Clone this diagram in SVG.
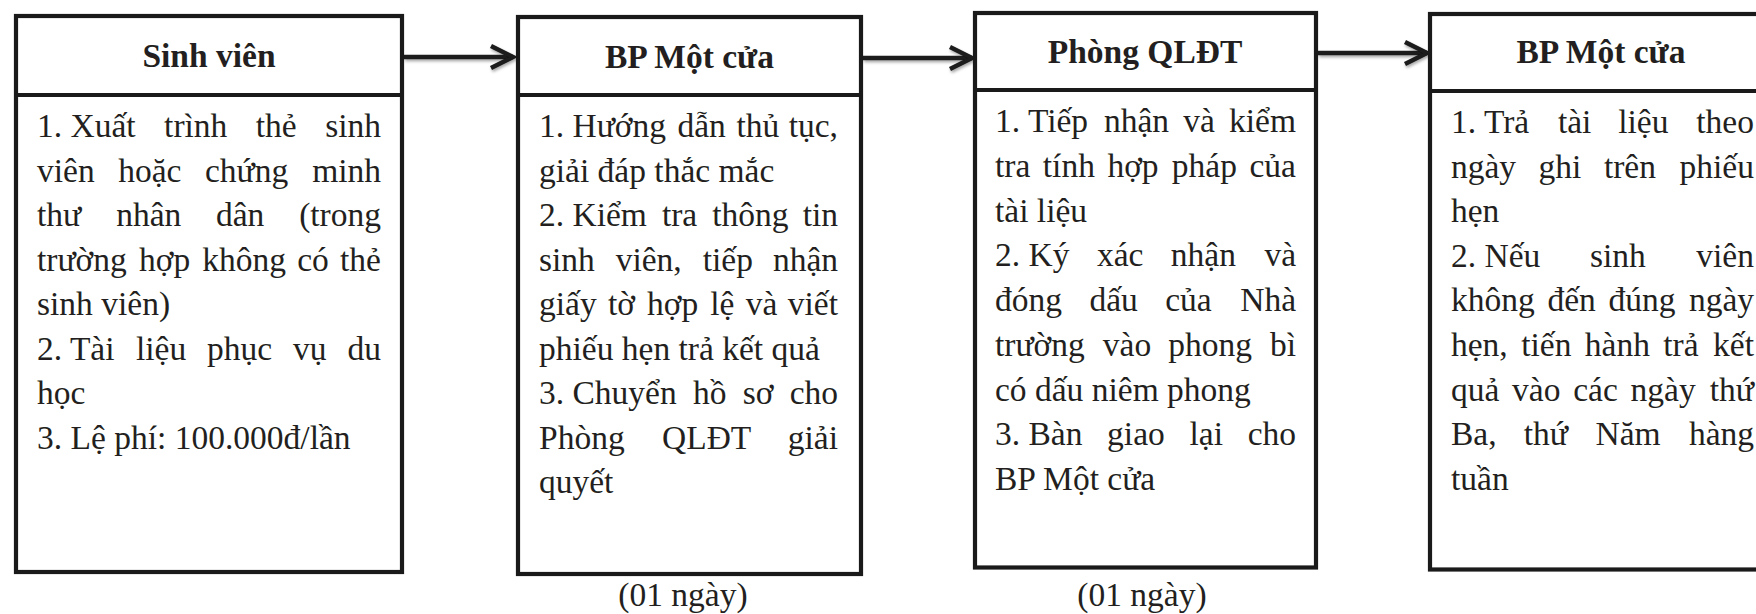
<svg xmlns="http://www.w3.org/2000/svg" width="1756" height="614" viewBox="0 0 1756 614">
<style>
.box{fill:#fff;stroke:#1a1a1a;stroke-width:4.2}
.div{stroke:#1a1a1a;stroke-width:4.2}
.hd{font-family:"Liberation Serif","Times New Roman",serif;font-weight:bold;font-size:33.5px;text-anchor:middle;fill:#231f20}
.bd{font-family:"Liberation Serif","Times New Roman",serif;font-size:33.5px;fill:#231f20}
.e{text-anchor:end}
.dur{font-family:"Liberation Serif","Times New Roman",serif;font-size:33.5px;text-anchor:middle;fill:#231f20}
.conn{stroke:#1a1a1a;stroke-width:4.5;fill:none;filter:url(#sh)}
</style>
<defs>
<filter id="sh" filterUnits="userSpaceOnUse" x="0" y="0" width="1756" height="614">
<feDropShadow dx="1" dy="2" stdDeviation="1.5" flood-color="#000" flood-opacity="0.35"/>
</filter>
<marker id="chev" markerUnits="userSpaceOnUse" viewBox="0 0 28 28" refX="25" refY="14" markerWidth="28" markerHeight="28" orient="auto">
<path d="M3,3 L25,14 L3,25" fill="none" stroke="#1a1a1a" stroke-width="4.5" stroke-linejoin="miter"/>
</marker>
</defs>

<g id="connectors">
<path class="conn" d="M404,57 L513,57" marker-end="url(#chev)"/>
<path class="conn" d="M863,58 L972,58" marker-end="url(#chev)"/>
<path class="conn" d="M1318,53 L1427,53" marker-end="url(#chev)"/>
</g>

<g id="node-sinhvien">
<rect class="box" x="16" y="16" width="386" height="556"/>
<line class="div" x1="16" y1="95" x2="402" y2="95"/>
<text class="hd" x="209" y="67">Sinh viên</text>
<text class="bd" y="137"><tspan x="37">1. Xuất</tspan><tspan x="164.1">trình</tspan><tspan x="255.8">thẻ</tspan><tspan x="381" class="e">sinh</tspan></text>
<text class="bd" y="181.5"><tspan x="37">viên</tspan><tspan x="118.2">hoặc</tspan><tspan x="205">chứng</tspan><tspan x="381" class="e">minh</tspan></text>
<text class="bd" y="226"><tspan x="37">thư</tspan><tspan x="116.2">nhân</tspan><tspan x="216">dân</tspan><tspan x="381" class="e">(trong</tspan></text>
<text class="bd" y="270.5"><tspan x="37">trường</tspan><tspan x="139">hợp</tspan><tspan x="202.2">không</tspan><tspan x="297.2">có</tspan><tspan x="381" class="e">thẻ</tspan></text>
<text class="bd" x="37" y="315">sinh viên)</text>
<text class="bd" y="359.5"><tspan x="37">2. Tài</tspan><tspan x="136">liệu</tspan><tspan x="207.1">phục</tspan><tspan x="293.1">vụ</tspan><tspan x="381" class="e">du</tspan></text>
<text class="bd" x="37" y="404">học</text>
<text class="bd" x="37" y="448.5">3. Lệ phí: 100.000đ/lần</text>
</g>

<g id="node-bp1">
<rect class="box" x="518" y="17" width="343" height="557"/>
<line class="div" x1="518" y1="95" x2="861" y2="95"/>
<text class="hd" x="689.5" y="68">BP Một cửa</text>
<text class="bd" y="137"><tspan x="539">1. Hướng</tspan><tspan x="677.5">dẫn</tspan><tspan x="736.4">thủ</tspan><tspan x="838" class="e">tục,</tspan></text>
<text class="bd" x="539" y="181.5">giải đáp thắc mắc</text>
<text class="bd" y="226"><tspan x="539">2. Kiểm</tspan><tspan x="661.9">tra</tspan><tspan x="712.2">thông</tspan><tspan x="838" class="e">tin</tspan></text>
<text class="bd" y="270.5"><tspan x="539">sinh</tspan><tspan x="615.7">viên,</tspan><tspan x="702.7">tiếp</tspan><tspan x="838" class="e">nhận</tspan></text>
<text class="bd" y="315"><tspan x="539">giấy</tspan><tspan x="608">tờ</tspan><tspan x="647.1">hợp</tspan><tspan x="710.3">lệ</tspan><tspan x="745.8">và</tspan><tspan x="838" class="e">viết</tspan></text>
<text class="bd" x="539" y="359.5">phiếu hẹn trả kết quả</text>
<text class="bd" y="404"><tspan x="539">3. Chuyển</tspan><tspan x="693">hồ</tspan><tspan x="742.8">sơ</tspan><tspan x="838" class="e">cho</tspan></text>
<text class="bd" y="448.5"><tspan x="539">Phòng</tspan><tspan x="662">QLĐT</tspan><tspan x="838" class="e">giải</tspan></text>
<text class="bd" x="539" y="493">quyết</text>
</g>
<text id="dur-1" class="dur" x="683" y="606">(01 ngày)</text>

<g id="node-qldt">
<rect class="box" x="975" y="13" width="341" height="554.5"/>
<line class="div" x1="975" y1="90" x2="1316" y2="90"/>
<text class="hd" x="1145" y="63">Phòng QLĐT</text>
<text class="bd" y="132"><tspan x="995">1. Tiếp</tspan><tspan x="1104">nhận</tspan><tspan x="1183.2">và</tspan><tspan x="1296" class="e">kiểm</tspan></text>
<text class="bd" y="176.75"><tspan x="995">tra</tspan><tspan x="1042.8">tính</tspan><tspan x="1107.4">hợp</tspan><tspan x="1171.8">pháp</tspan><tspan x="1296" class="e">của</tspan></text>
<text class="bd" x="995" y="221.5">tài liệu</text>
<text class="bd" y="266.25"><tspan x="995">2. Ký</tspan><tspan x="1096.9">xác</tspan><tspan x="1170.8">nhận</tspan><tspan x="1296" class="e">và</tspan></text>
<text class="bd" y="311"><tspan x="995">đóng</tspan><tspan x="1089.4">dấu</tspan><tspan x="1165.2">của</tspan><tspan x="1296" class="e">Nhà</tspan></text>
<text class="bd" y="355.75"><tspan x="995">trường</tspan><tspan x="1102.8">vào</tspan><tspan x="1168.2">phong</tspan><tspan x="1296" class="e">bì</tspan></text>
<text class="bd" x="995" y="400.5">có dấu niêm phong</text>
<text class="bd" y="445.25"><tspan x="995">3. Bàn</tspan><tspan x="1107.1">giao</tspan><tspan x="1189.5">lại</tspan><tspan x="1296" class="e">cho</tspan></text>
<text class="bd" x="995" y="490">BP Một cửa</text>
</g>
<text id="dur-2" class="dur" x="1142" y="606">(01 ngày)</text>

<g id="node-bp2">
<rect class="box" x="1430" y="14" width="420" height="555.5"/>
<line class="div" x1="1430" y1="91" x2="1760" y2="91"/>
<text class="hd" x="1601" y="63">BP Một cửa</text>
<text class="bd" y="133"><tspan x="1451">1. Trả</tspan><tspan x="1557.9">tài</tspan><tspan x="1618.2">liệu</tspan><tspan x="1754" class="e">theo</tspan></text>
<text class="bd" y="177.6"><tspan x="1451">ngày</tspan><tspan x="1538.6">ghi</tspan><tspan x="1603.9">trên</tspan><tspan x="1754" class="e">phiếu</tspan></text>
<text class="bd" x="1451" y="222.2">hẹn</text>
<text class="bd" y="266.8"><tspan x="1451">2. Nếu</tspan><tspan x="1589.9">sinh</tspan><tspan x="1754" class="e">viên</tspan></text>
<text class="bd" y="311.4"><tspan x="1451">không</tspan><tspan x="1547.4">đến</tspan><tspan x="1608.4">đúng</tspan><tspan x="1754" class="e">ngày</tspan></text>
<text class="bd" y="356"><tspan x="1451">hẹn,</tspan><tspan x="1521.2">tiến</tspan><tspan x="1584.8">hành</tspan><tspan x="1663.3">trả</tspan><tspan x="1754" class="e">kết</tspan></text>
<text class="bd" y="400.6"><tspan x="1451">quả</tspan><tspan x="1512.1">vào</tspan><tspan x="1573.2">các</tspan><tspan x="1630.6">ngày</tspan><tspan x="1754" class="e">thứ</tspan></text>
<text class="bd" y="445.2"><tspan x="1451">Ba,</tspan><tspan x="1523.8">thứ</tspan><tspan x="1595.5">Năm</tspan><tspan x="1754" class="e">hàng</tspan></text>
<text class="bd" x="1451" y="489.8">tuần</text>
</g>
</svg>
